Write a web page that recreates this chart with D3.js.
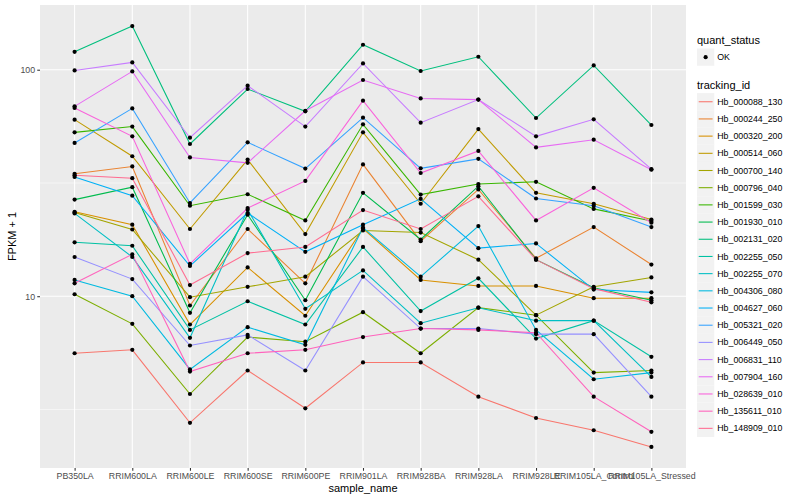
<!DOCTYPE html>
<html>
<head>
<meta charset="utf-8">
<script src="https://cdn.jsdelivr.net/npm/d3@7"></script>
<style>
  body { margin: 0; background: #fff; }
  text { font-family: "Liberation Sans", Arial, Helvetica, sans-serif; }
</style>
</head>
<body>
<div id="chart"></div>
<script>
// x categories
var samples = ["PB350LA", "RRIM600LA", "RRIM600LE", "RRIM600SE", "RRIM600PE", "RRIM901LA",
  "RRIM928BA", "RRIM928LA", "RRIM928LE", "RRIM105LA_Control", "RRIM105LA_Stressed"];

var trackingIds = ["Hb_000088_130", "Hb_000244_250", "Hb_000320_200", "Hb_000514_060",
  "Hb_000700_140", "Hb_000796_040", "Hb_001599_030", "Hb_001930_010", "Hb_002131_020",
  "Hb_002255_050", "Hb_002255_070", "Hb_004306_080", "Hb_004627_060", "Hb_005321_020",
  "Hb_006449_050", "Hb_006831_110", "Hb_007904_160", "Hb_028639_010", "Hb_135611_010",
  "Hb_148909_010"];

var quantStatus = ["OK"];
var yTicks = [10, 100];

// FPKM + 1 per tracking id, in sample order
var hb_000088_130 = [5.6, 5.8, 2.76, 4.7, 3.2, 5.1, 5.1, 3.6, 2.9, 2.56, 2.16];
var hb_000244_250 = [34.7, 37.4, 9.1, 19.8, 11.4, 38.2, 17.5, 29.6, 14.7, 20.2, 13.8];
var hb_000320_200 = [23.6, 20.7, 7.5, 13.4, 8.2, 19.9, 11.8, 11.1, 11.1, 9.8, 9.8];
var hb_000514_060 = [60.2, 41.5, 19.8, 40.1, 18.8, 52.9, 25.6, 54.7, 28.6, 25.6, 21.8];
var hb_000700_140 = [23.4, 19.7, 9.9, 11.0, 12.2, 19.5, 19.1, 14.5, 8.25, 11.0, 12.1];
var hb_000796_040 = [10.2, 7.55, 3.7, 6.6, 6.3, 8.5, 5.6, 8.9, 8.25, 4.6, 4.7];
var hb_001599_030 = [52.9, 56.1, 25.1, 28.2, 21.6, 57.4, 28.1, 31.3, 32.0, 24.3, 21.5];
var hb_001930_010 = [26.7, 30.3, 8.45, 22.9, 9.6, 28.6, 17.8, 30.6, 14.5, 10.9, 9.6];
var hb_002131_020 = [120.0, 155.9, 47.0, 82.2, 65.5, 128.9, 98.7, 114.1, 61.2, 104.5, 57.0];
var hb_002255_050 = [17.3, 16.7, 7.1, 9.5, 7.5, 16.5, 8.6, 12.0, 6.5, 7.8, 5.4];
var hb_002255_070 = [23.2, 14.9, 6.55, 24.1, 8.8, 13.0, 7.6, 8.9, 7.8, 7.8, 4.4];
var hb_004306_080 = [11.8, 10.0, 4.75, 7.3, 6.1, 20.1, 12.2, 20.4, 7.1, 4.3, 4.6];
var hb_004627_060 = [33.6, 27.8, 13.6, 23.3, 15.7, 20.7, 26.9, 16.3, 17.1, 10.7, 10.4];
var hb_005321_020 = [47.5, 67.5, 25.8, 47.8, 36.6, 61.4, 36.7, 40.4, 27.0, 25.1, 20.2];
var hb_006449_050 = [14.9, 11.9, 6.06, 6.75, 4.7, 12.2, 7.2, 7.2, 6.8, 6.8, 3.6];
var hb_006831_110 = [99.3, 107.7, 50.1, 85.0, 56.1, 106.6, 58.4, 73.8, 50.8, 60.4, 36.4];
var hb_007904_160 = [68.9, 98.3, 41.0, 38.8, 65.9, 90.1, 74.7, 73.8, 45.4, 49.1, 36.2];
var hb_028639_010 = [67.8, 50.8, 13.9, 24.5, 32.3, 73.0, 35.0, 43.8, 21.6, 30.1, 21.1];
var hb_135611_010 = [11.4, 15.3, 4.65, 5.6, 5.8, 6.6, 7.2, 7.1, 6.9, 3.6, 2.52];
var hb_148909_010 = [34.2, 33.2, 11.2, 15.5, 16.5, 24.0, 19.8, 27.6, 14.5, 10.8, 9.4];

var seriesValues = [hb_000088_130, hb_000244_250, hb_000320_200, hb_000514_060, hb_000700_140,
  hb_000796_040, hb_001599_030, hb_001930_010, hb_002131_020, hb_002255_050, hb_002255_070,
  hb_004306_080, hb_004627_060, hb_005321_020, hb_006449_050, hb_006831_110, hb_007904_160,
  hb_028639_010, hb_135611_010, hb_148909_010];

// ggplot default hue palette for 20 levels
var palette = ["#F8766D", "#EA8331", "#D89000", "#C09B00", "#A3A500", "#7CAE00", "#39B600",
  "#00BB4E", "#00BF7D", "#00C1A3", "#00BFC4", "#00BAE0", "#00B0F6", "#35A2FF", "#9590FF",
  "#C77CFF", "#E76BF3", "#FA62DB", "#FF62BC", "#FF6C91"];

var series = trackingIds.map(function(id, i) {
  return {id: id, values: seriesValues[i].map(function(v, j) { return {sample: samples[j], value: v}; })};
});

// dimensions
var W = 800, H = 500;
var margin = {top: 5, right: 114, bottom: 32, left: 40},
    width = W - margin.left - margin.right,
    height = H - margin.top - margin.bottom;

var svg = d3.select("#chart")
  .append("svg")
    .attr("width", W)
    .attr("height", H);

var g = svg.append("g")
    .attr("transform", "translate(" + margin.left + "," + margin.top + ")");

// scales
var x = d3.scalePoint()
  .domain(samples)
  .range([0, width])
  .padding(0.6);

var all = d3.merge(seriesValues);
var lo = Math.log10(d3.min(all)), hi = Math.log10(d3.max(all));
var pad = (hi - lo) * 0.05;
var y = d3.scaleLog()
  .domain([Math.pow(10, lo - pad), Math.pow(10, hi + pad)])
  .range([height, 0]);

var color = d3.scaleOrdinal().domain(trackingIds).range(palette);

// panel
g.append("rect")
  .attr("width", width)
  .attr("height", height)
  .attr("fill", "#EBEBEB");

// minor grid (half decades)
var minor = [Math.pow(10, 0.5), Math.pow(10, 1.5), Math.pow(10, 2.5)].filter(function(v) {
  return v > y.domain()[0] && v < y.domain()[1];
});
g.selectAll(".minor")
  .data(minor)
  .enter()
  .append("line")
    .attr("x1", 0).attr("x2", width)
    .attr("y1", function(d) { return y(d); })
    .attr("y2", function(d) { return y(d); })
    .attr("stroke", "#fff")
    .attr("stroke-width", 0.53);

// major grid
g.selectAll(".major")
  .data(yTicks)
  .enter()
  .append("line")
    .attr("x1", 0).attr("x2", width)
    .attr("y1", function(d) { return y(d); })
    .attr("y2", function(d) { return y(d); })
    .attr("stroke", "#fff")
    .attr("stroke-width", 1.07);

g.selectAll(".vgrid")
  .data(samples)
  .enter()
  .append("line")
    .attr("x1", function(d) { return x(d); })
    .attr("x2", function(d) { return x(d); })
    .attr("y1", 0).attr("y2", height)
    .attr("stroke", "#fff")
    .attr("stroke-width", 1.07);

// lines
var line = d3.line()
  .x(function(d) { return x(d.sample); })
  .y(function(d) { return y(d.value); });

g.selectAll(".series")
  .data(series)
  .enter()
  .append("path")
    .attr("d", function(d) { return line(d.values); })
    .attr("fill", "none")
    .attr("stroke", function(d) { return color(d.id); })
    .attr("stroke-width", 1.07);

// points
g.selectAll(".pt")
  .data(d3.merge(series.map(function(s) { return s.values; })))
  .enter()
  .append("circle")
    .attr("cx", function(d) { return x(d.sample); })
    .attr("cy", function(d) { return y(d.value); })
    .attr("r", 2.1)
    .attr("fill", "#000");

// X axis
var xAxis = g.append("g")
  .attr("transform", "translate(0," + height + ")")
  .call(d3.axisBottom(x).tickSize(2.75).tickPadding(2.5));
xAxis.select(".domain").remove();
xAxis.selectAll("line").attr("stroke", "#333333").attr("stroke-width", 1.07);
xAxis.selectAll("text")
  .attr("fill", "#4D4D4D")
  .style("font-size", "8.8px")
  .style("font-family", "'Liberation Sans', Arial, sans-serif");

// Y axis
var yAxis = g.append("g")
  .call(d3.axisLeft(y).tickValues(yTicks).tickFormat(d3.format("d")).tickSize(2.75).tickPadding(2.2));
yAxis.select(".domain").remove();
yAxis.selectAll("line").attr("stroke", "#333333").attr("stroke-width", 1.07);
yAxis.selectAll("text")
  .attr("fill", "#4D4D4D")
  .style("font-size", "8.8px")
  .style("font-family", "'Liberation Sans', Arial, sans-serif");

// axis titles
svg.append("text")
  .attr("transform", "translate(16," + (margin.top + height / 2) + ")rotate(-90)")
  .attr("text-anchor", "middle")
  .style("font-size", "11px")
  .text("FPKM + 1");

svg.append("text")
  .attr("x", margin.left + width / 2)
  .attr("y", 492)
  .attr("text-anchor", "middle")
  .style("font-size", "11px")
  .text("sample_name");

// legends
var lx = margin.left + width + 11, key = 17.28;
var leg = svg.append("g").attr("transform", "translate(" + lx + ",0)");

leg.append("text").attr("x", 0).attr("y", 44).style("font-size", "11px").text("quant_status");
var qs = leg.selectAll(".qs")
  .data(quantStatus)
  .enter()
  .append("g")
    .attr("transform", function(d, i) { return "translate(0," + (48.5 + i * key) + ")"; });
qs.append("rect").attr("width", key).attr("height", key).attr("fill", "#F2F2F2");
qs.append("circle").attr("cx", key / 2).attr("cy", key / 2).attr("r", 2.1).attr("fill", "#000");
qs.append("text").attr("x", key + 3).attr("y", key / 2).attr("dy", "0.35em")
  .style("font-size", "8.8px").text(function(d) { return d; });

leg.append("text").attr("x", 0).attr("y", 89).style("font-size", "11px").text("tracking_id");
var ti = leg.selectAll(".ti")
  .data(trackingIds)
  .enter()
  .append("g")
    .attr("transform", function(d, i) { return "translate(0," + (93.1 + i * 17.19) + ")"; });
ti.append("rect").attr("width", key).attr("height", key).attr("fill", "#F2F2F2");
ti.append("line")
  .attr("x1", 1.7).attr("x2", key - 1.7)
  .attr("y1", key / 2).attr("y2", key / 2)
  .attr("stroke", function(d) { return color(d); })
  .attr("stroke-width", 1.07);
ti.append("text").attr("x", key + 3).attr("y", key / 2).attr("dy", "0.35em")
  .style("font-size", "8.8px").text(function(d) { return d; });
</script>
</body>
</html>
